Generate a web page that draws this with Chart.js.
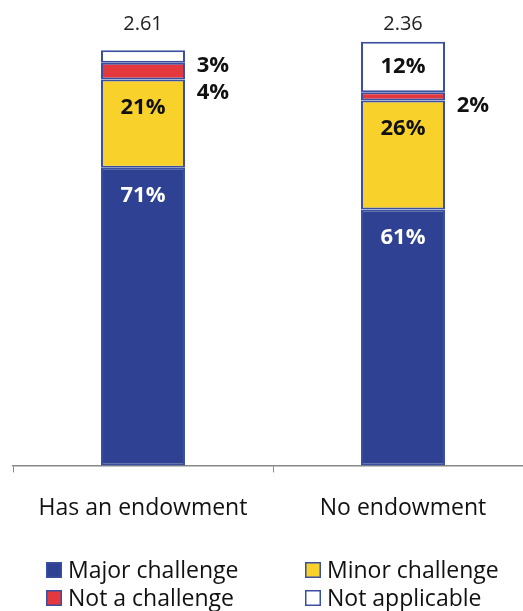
<!DOCTYPE html>
<html>
<head>
<meta charset="utf-8">
<script src="https://cdn.jsdelivr.net/npm/chart.js@4/dist/chart.umd.min.js"></script>
<style>
  html, body { margin: 0; padding: 0; background: #fff; overflow: hidden; }
  #wrap { width: 533px; height: 611px; }
</style>
</head>
<body>
<div id="wrap"><canvas id="challengeChart"></canvas></div>
<script>
const categories = ["Has an endowment", "No endowment"];
const meanScores = ["2.61", "2.36"];
const seriesNames = ["Major challenge", "Minor challenge", "Not a challenge", "Not applicable"];
const majorChallenge = [71, 61];
const minorChallenge = [21, 26];
const notAChallenge = [4, 2];
const notApplicable = [3, 12];

const fills = ["#2E4192", "#F9D12B", "#E2383E", "#FFFFFF"];
const edge = "#3A4FA0";
const font = "'Open Sans', sans-serif";

// percent labels: inside near top of segment, small ones to the right of the bar
const segmentLabels = {
  id: "segmentLabels",
  afterDatasetsDraw(chart) {
    const ctx = chart.ctx;
    const yScale = chart.scales.y;
    ctx.save();
    ctx.textAlign = "center";
    ctx.textBaseline = "middle";
    categories.forEach((c, j) => {
      let lastY = -100;
      ctx.font = "bold 22px " + font;
      for (let i = chart.data.datasets.length - 1; i >= 0; i--) {
        const el = chart.getDatasetMeta(i).data[j];
        const v = chart.data.datasets[i].data[j];
        const top = el.y, base = el.base;
        if (v >= 10) {
          ctx.fillStyle = i === 0 ? "#fff" : "#111";
          ctx.fillText(v + "%", el.x, Math.min(top + 28, (top + base) / 2));
        } else {
          let y = Math.max((top + base) / 2 + 9, lastY + 27);
          lastY = y;
          ctx.fillStyle = "#111";
          ctx.fillText(v + "%", el.x + el.width / 2 + 28, y);
        }
      }
      // mean score above the bar
      const x0 = chart.getDatasetMeta(0).data[j].x;
      ctx.font = "20px " + font;
      ctx.fillStyle = "#222";
      ctx.fillText(meanScores[j], x0, yScale.getPixelForValue(100) - 22);
    });
    ctx.restore();
  }
};

// two column legend under the axis
const gridLegend = {
  id: "gridLegend",
  afterDraw(chart) {
    const ctx = chart.ctx;
    const cols = [46, 305];
    const rows = [chart.height - 41, chart.height - 13];
    ctx.save();
    ctx.font = "23px " + font;
    ctx.textBaseline = "middle";
    ctx.textAlign = "left";
    chart.data.datasets.forEach((ds, i) => {
      const x = cols[i % 2];
      const y = rows[Math.floor(i / 2)];
      ctx.fillStyle = ds.backgroundColor;
      ctx.fillRect(x, y - 8, 16, 16);
      ctx.strokeStyle = edge;
      ctx.lineWidth = 1.5;
      ctx.strokeRect(x + 0.75, y - 7.25, 14.5, 14.5);
      ctx.fillStyle = "#111";
      ctx.fillText(ds.label, x + 22, y + 1);
    });
    ctx.restore();
  }
};

const seriesData = [majorChallenge, minorChallenge, notAChallenge, notApplicable];

const challengeChart = new Chart(document.getElementById("challengeChart"), {
  type: "bar",
  data: {
    labels: categories,
    datasets: seriesNames.map((name, i) => ({
      label: name,
      data: seriesData[i],
      backgroundColor: fills[i],
      borderColor: edge,
      borderWidth: 2,
      borderSkipped: false,
      barPercentage: 0.323,
      categoryPercentage: 1,
      clip: false
    }))
  },
  options: {
    responsive: true,
    maintainAspectRatio: false,
    animation: false,
    layout: { padding: { top: 46, left: 13, right: 0, bottom: 67 } },
    plugins: {
      legend: { display: false },
      tooltip: { enabled: false }
    },
    scales: {
      x: {
        stacked: true,
        grid: {
          offset: true,
          drawOnChartArea: false,
          drawTicks: true,
          tickLength: 7,
          color: "#888"
        },
        border: { display: true, color: "#888", width: 1.5 },
        ticks: {
          padding: 22,
          color: "#111",
          font: { family: "'Open Sans', sans-serif", size: 23 }
        }
      },
      y: {
        stacked: true,
        display: false,
        min: 0,
        max: 100
      }
    }
  },
  plugins: [segmentLabels, gridLegend]
});
</script>
</body>
</html>
